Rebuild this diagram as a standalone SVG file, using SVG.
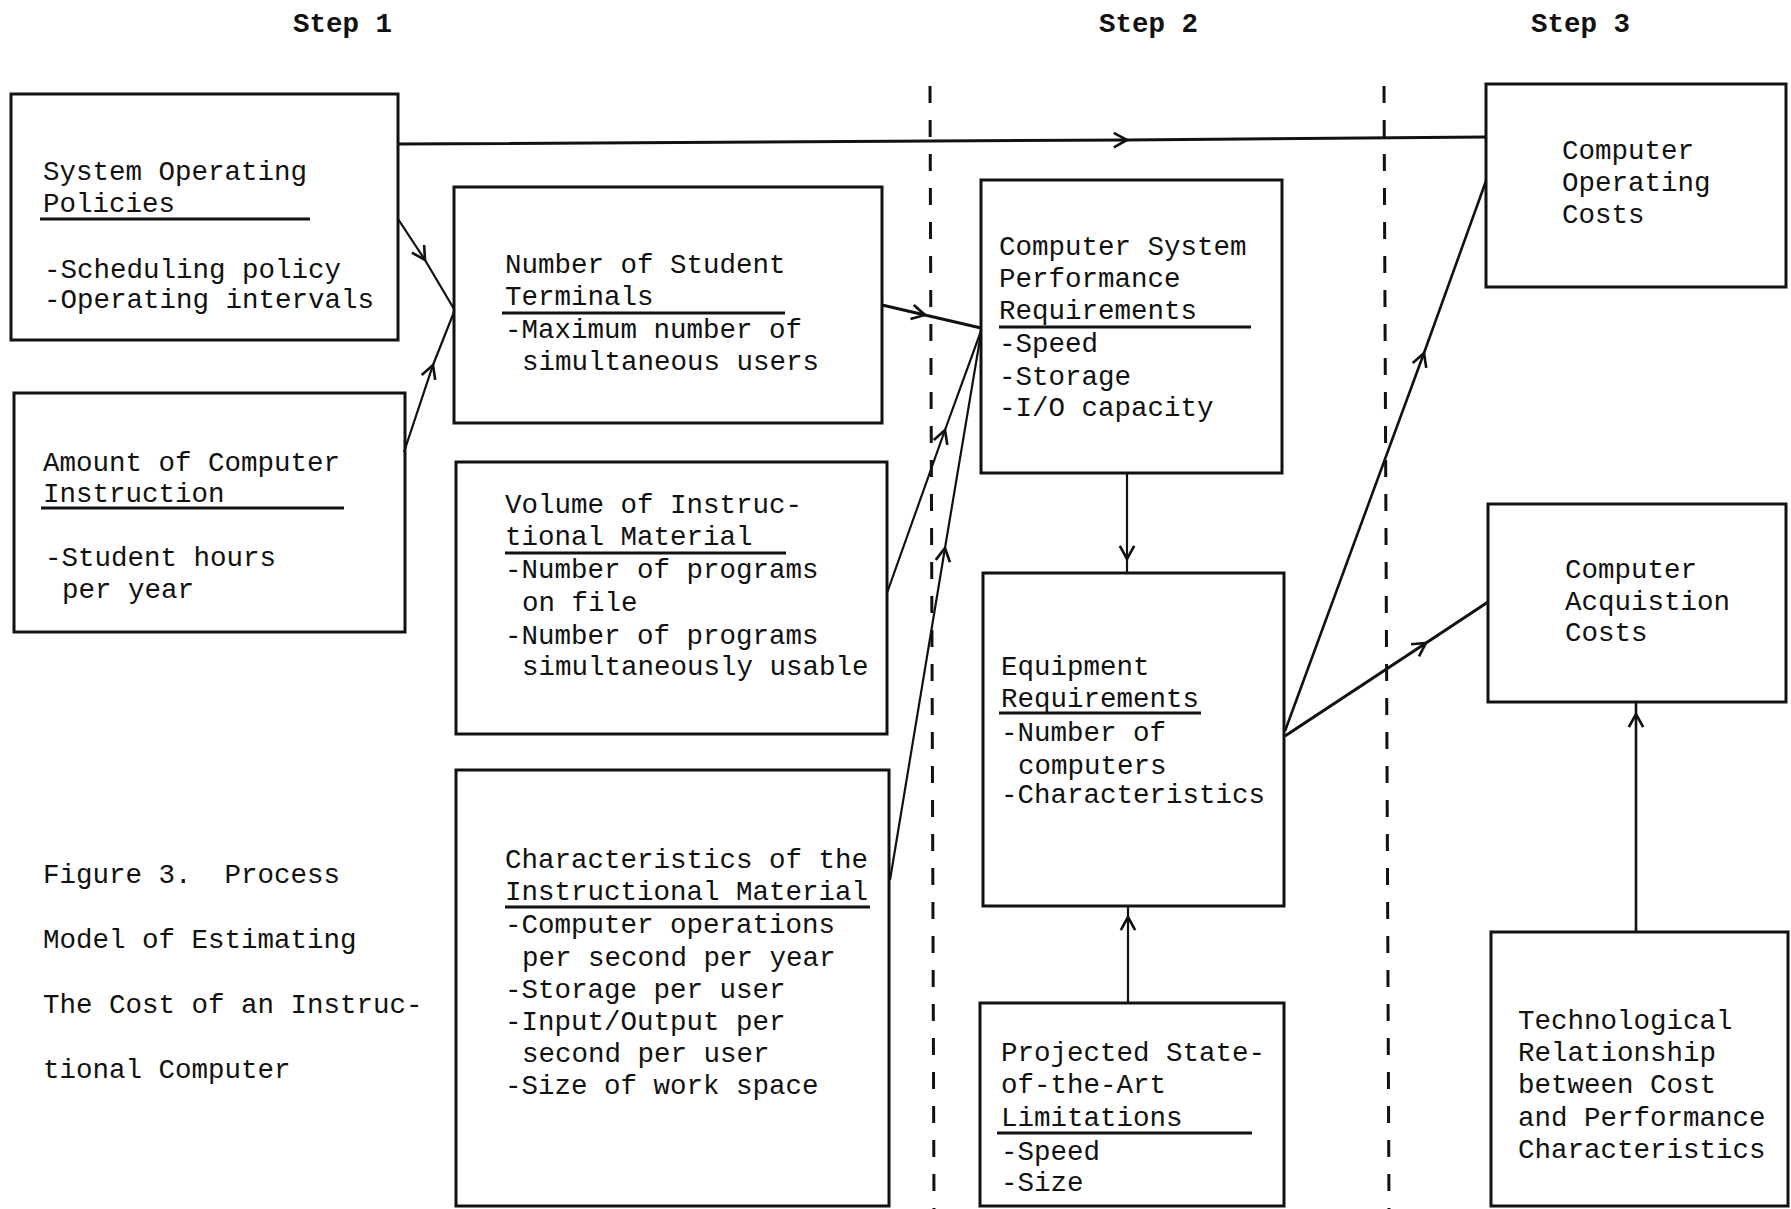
<svg xmlns="http://www.w3.org/2000/svg" width="1791" height="1209" viewBox="0 0 1791 1209">
<defs>
<style>
.box{fill:none;stroke:#111;stroke-width:3}
.t{font-family:"Liberation Mono","Courier New",monospace;font-size:27.5px;fill:#111}
.st{font-family:"Liberation Mono","Courier New",monospace;font-size:27.5px;font-weight:bold;fill:#111}
.ul{stroke:#111;stroke-width:3}
.dash{stroke:#111;stroke-width:3;stroke-dasharray:17 17;fill:none}
.c{fill:none;stroke:#111;stroke-width:2.2}
</style>
<marker id="ah" markerUnits="userSpaceOnUse" markerWidth="24" markerHeight="24" viewBox="-14 -10 18 20" refX="0" refY="0" orient="auto">
<path d="M -11 -6 L 0 0 L -11 6" fill="none" stroke="#111" stroke-width="2.2"/>
</marker>
</defs>
<rect width="1791" height="1209" fill="#fff"/>

<g id="steps">
<text class="st" x="293" y="32">Step 1</text>
<text class="st" x="1099" y="32">Step 2</text>
<text class="st" x="1531" y="32">Step 3</text>
</g>

<g id="dividers">
<line class="dash" x1="930" y1="86" x2="934" y2="1209"/>
<line class="dash" x1="1384" y1="86" x2="1389" y2="1209"/>
</g>

<g id="caption">
<text class="t" x="43" y="883">Figure 3.&#160; Process</text>
<text class="t" x="43" y="948">Model of Estimating</text>
<text class="t" x="43" y="1013">The Cost of an Instruc-</text>
<text class="t" x="43" y="1078">tional Computer</text>
</g>

<g id="system-operating-policies">
<rect class="box" x="11" y="94" width="387" height="246"/>
<text class="t" x="43" y="180">System Operating</text>
<text class="t" x="43" y="212">Policies</text>
<line class="ul" x1="40" y1="219" x2="310" y2="219"/>
<text class="t" x="44" y="278">-Scheduling policy</text>
<text class="t" x="44" y="308">-Operating intervals</text>
</g>

<g id="amount-of-computer-instruction">
<rect class="box" x="14" y="393" width="391" height="239"/>
<text class="t" x="43" y="471">Amount of Computer</text>
<text class="t" x="43" y="502">Instruction</text>
<line class="ul" x1="41" y1="508" x2="344" y2="508"/>
<text class="t" x="45" y="566">-Student hours</text>
<text class="t" x="62" y="598">per year</text>
</g>

<g id="number-of-student-terminals">
<rect class="box" x="454" y="187" width="428" height="236"/>
<text class="t" x="505" y="273">Number of Student</text>
<text class="t" x="505" y="305">Terminals</text>
<line class="ul" x1="502" y1="313" x2="785" y2="313"/>
<text class="t" x="505" y="338">-Maximum number of</text>
<text class="t" x="522" y="370">simultaneous users</text>
</g>

<g id="volume-of-instructional-material">
<rect class="box" x="456" y="462" width="431" height="272"/>
<text class="t" x="505" y="513">Volume of Instruc-</text>
<text class="t" x="505" y="545">tional Material</text>
<line class="ul" x1="505" y1="553" x2="786" y2="553"/>
<text class="t" x="505" y="578">-Number of programs</text>
<text class="t" x="522" y="611">on file</text>
<text class="t" x="505" y="644">-Number of programs</text>
<text class="t" x="522" y="675">simultaneously usable</text>
</g>

<g id="characteristics-of-instructional-material">
<rect class="box" x="456" y="770" width="433" height="436"/>
<text class="t" x="505" y="868">Characteristics of the</text>
<text class="t" x="505" y="900">Instructional Material</text>
<line class="ul" x1="505" y1="907" x2="870" y2="907"/>
<text class="t" x="505" y="933">-Computer operations</text>
<text class="t" x="522" y="966">per second per year</text>
<text class="t" x="505" y="998">-Storage per user</text>
<text class="t" x="505" y="1030">-Input/Output per</text>
<text class="t" x="522" y="1062">second per user</text>
<text class="t" x="505" y="1094">-Size of work space</text>
</g>

<g id="computer-system-performance-requirements">
<rect class="box" x="981" y="180" width="301" height="293"/>
<text class="t" x="999" y="255">Computer System</text>
<text class="t" x="999" y="287">Performance</text>
<text class="t" x="999" y="319">Requirements</text>
<line class="ul" x1="999" y1="327" x2="1251" y2="327"/>
<text class="t" x="999" y="352">-Speed</text>
<text class="t" x="999" y="385">-Storage</text>
<text class="t" x="999" y="416">-I/O capacity</text>
</g>

<g id="equipment-requirements">
<rect class="box" x="983" y="573" width="301" height="333"/>
<text class="t" x="1001" y="675">Equipment</text>
<text class="t" x="1001" y="707">Requirements</text>
<line class="ul" x1="999" y1="713" x2="1201" y2="713"/>
<text class="t" x="1001" y="741">-Number of</text>
<text class="t" x="1018" y="774">computers</text>
<text class="t" x="1001" y="803">-Characteristics</text>
</g>

<g id="projected-state-of-the-art">
<rect class="box" x="980" y="1003" width="304" height="203"/>
<text class="t" x="1001" y="1061">Projected State-</text>
<text class="t" x="1001" y="1093">of-the-Art</text>
<text class="t" x="1001" y="1126">Limitations</text>
<line class="ul" x1="997" y1="1133" x2="1252" y2="1133"/>
<text class="t" x="1001" y="1160">-Speed</text>
<text class="t" x="1001" y="1191">-Size</text>
</g>

<g id="computer-operating-costs">
<rect class="box" x="1486" y="84" width="300" height="203"/>
<text class="t" x="1562" y="159">Computer</text>
<text class="t" x="1562" y="191">Operating</text>
<text class="t" x="1562" y="223">Costs</text>
</g>

<g id="computer-acquistion-costs">
<rect class="box" x="1488" y="504" width="298" height="198"/>
<text class="t" x="1565" y="578">Computer</text>
<text class="t" x="1565" y="610">Acquistion</text>
<text class="t" x="1565" y="641">Costs</text>
</g>

<g id="technological-relationship">
<rect class="box" x="1491" y="932" width="297" height="274"/>
<text class="t" x="1518" y="1029">Technological</text>
<text class="t" x="1518" y="1061">Relationship</text>
<text class="t" x="1518" y="1093">between Cost</text>
<text class="t" x="1518" y="1126">and Performance</text>
<text class="t" x="1518" y="1158">Characteristics</text>
</g>

<g id="connectors">
<path class="c" style="stroke-width:3" marker-mid="url(#ah)" d="M 398 144 L 1127 140 L 1486 137"/>
<path class="c" marker-mid="url(#ah)" d="M 398 219 L 425 260 L 454 309"/>
<path class="c" marker-mid="url(#ah)" d="M 404 452 L 433 365 L 454 312"/>
<path class="c" style="stroke-width:3" marker-mid="url(#ah)" d="M 882 305 L 925 315 L 981 328"/>
<path class="c" marker-mid="url(#ah)" d="M 887 593 L 945 430 L 981 331"/>
<path class="c" marker-mid="url(#ah)" d="M 890 880 L 945 548 L 981 333"/>
<path class="c" marker-mid="url(#ah)" d="M 1127 473 L 1127 559 L 1127 573"/>
<path class="c" marker-mid="url(#ah)" d="M 1128 1003 L 1128 917 L 1128 906"/>
<path class="c" style="stroke-width:2.6" marker-mid="url(#ah)" d="M 1285 731 L 1424 353 L 1486 181"/>
<path class="c" style="stroke-width:3" marker-mid="url(#ah)" d="M 1285 736 L 1426 643 L 1488 602"/>
<path class="c" style="stroke-width:2.6" marker-mid="url(#ah)" d="M 1636 932 L 1636 714 L 1636 702"/>
</g>
</svg>
